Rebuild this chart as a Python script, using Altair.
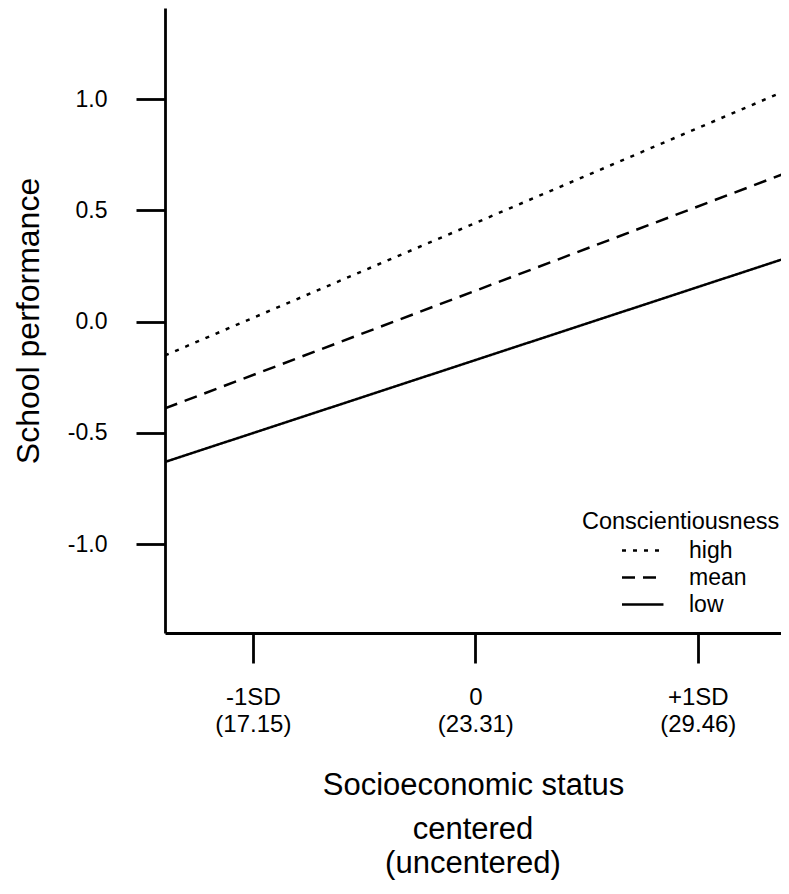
import altair as alt
import pandas as pd

levels = ["high", "mean", "low"]
x_ends = [-1.395, 1.41]
high_vals = [-0.152, 1.045]
mean_vals = [-0.390, 0.673]
low_vals = [-0.631, 0.290]
x_ticks = [-1, 0, 1]
x_tick_top = ["-1SD", "0", "+1SD"]
x_tick_bottom = ["(17.15)", "(23.31)", "(29.46)"]
y_ticks = [-1.0, -0.5, 0.0, 0.5, 1.0]
x_title = "Socioeconomic status"
x_subtitle = ["centered", "(uncentered)"]
y_title = "School performance"
legend_title = "Conscientiousness"

rows = []
for lvl, vals in zip(levels, [high_vals, mean_vals, low_vals]):
    for x, y in zip(x_ends, vals):
        rows.append({"ses": x, "perf": y, "Conscientiousness": lvl})
df = pd.DataFrame(rows)

parts = []
for v, a, b in zip(x_ticks, x_tick_top, x_tick_bottom):
    parts.append(f"datum.value == {v} ? ['{a}', '{b}']")
x_label_expr = " : ".join(parts) + " : ''"
y_label_expr = "(datum.value < 0 ? '-' : '') + format(abs(datum.value), '.1f')"

FONT = "Liberation Sans"

chart = alt.Chart(
    df,
    title=alt.TitleParams(
        text=x_subtitle,
        orient="bottom",
        anchor="middle",
        fontSize=31,
        fontWeight="normal",
        font=FONT,
        color="black",
        lineHeight=34,
        offset=15,
    ),
).mark_line(strokeWidth=2.5, clip=True, color="black").encode(
    x=alt.X(
        "ses:Q",
        scale=alt.Scale(domain=[-1.395, 1.374], nice=False, zero=False),
        axis=alt.Axis(
            values=x_ticks,
            labelExpr=x_label_expr,
            title=x_title,
            grid=False,
            tickSize=30,
            tickWidth=2.8,
            domainWidth=2.8,
            labelFontSize=24,
            labelLineHeight=27,
            labelPadding=22,
            titleFontSize=31,
            titlePadding=34,
        ),
    ),
    y=alt.Y(
        "perf:Q",
        scale=alt.Scale(domain=[-1.4, 1.41], nice=False, zero=False),
        axis=alt.Axis(
            values=y_ticks,
            labelExpr=y_label_expr,
            title=y_title,
            grid=False,
            tickSize=29,
            tickWidth=2.8,
            domainWidth=2.8,
            labelFontSize=23,
            labelPadding=29,
            titleFontSize=32,
            titlePadding=22,
        ),
    ),
    strokeDash=alt.StrokeDash(
        "Conscientiousness:N",
        scale=alt.Scale(domain=levels, range=[[4, 7], [13, 8], [1, 0]]),
        legend=alt.Legend(
            title=legend_title,
            orient="none",
            legendX=417,
            legendY=502,
            symbolType="M0,0L4,0",
            symbolSize=430,
            symbolStrokeWidth=2.5,
            symbolStrokeColor="black",
            symbolFillColor="transparent",
            symbolOffset=28,
            titleFontSize=23.5,
            labelFontSize=23,
            titleFontWeight="normal",
            titleAnchor="start",
            titleLimit=0,
            labelOffset=55,
            rowPadding=3,
        ),
    ),
).properties(
    width=616,
    height=625,
    autosize=alt.AutoSizeParams(type="none"),
    padding={"left": 157, "top": 0, "right": 0, "bottom": 252},
).configure_view(
    stroke=None
).configure_axis(
    domainColor="black",
    tickColor="black",
    labelColor="black",
    titleColor="black",
    titleFontWeight="normal",
    labelFont=FONT,
    titleFont=FONT,
).configure_legend(
    labelFont=FONT,
    titleFont=FONT,
    labelColor="black",
    titleColor="black",
)

chart.save("out.html", embed_options={"renderer": "svg", "actions": False})
